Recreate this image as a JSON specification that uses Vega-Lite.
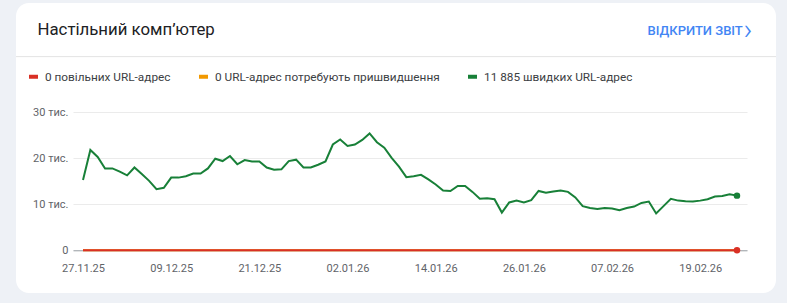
{
  "$schema": "https://vega.github.io/schema/vega-lite/v6.json",
  "width": 760,
  "height": 290,
  "padding": {"left": 15, "top": 3, "right": 12, "bottom": 10},
  "autosize": {"type": "pad"},
  "background": "#eef1f6",
  "config": {
    "font": "Roboto",
    "view": {"fill": "#ffffff", "cornerRadius": 13, "stroke": null},
    "legend": {
      "orient": "none",
      "legendX": 11,
      "legendY": 67,
      "direction": "horizontal",
      "symbolType": "stroke",
      "symbolStrokeWidth": 4,
      "symbolSize": 81,
      "labelFont": "Roboto",
      "labelFontSize": 11.8,
      "labelColor": "#3c4043",
      "labelLimit": 0,
      "labelOffset": 5,
      "columnPadding": 20,
      "padding": 0,
      "title": null
    }
  },
  "data": {"values": [
    {"d": "2025-11-27", "slow": 0, "needs": 0, "fast": 15300},
    {"d": "2025-11-28", "slow": 0, "needs": 0, "fast": 21800},
    {"d": "2025-11-29", "slow": 0, "needs": 0, "fast": 20300},
    {"d": "2025-11-30", "slow": 0, "needs": 0, "fast": 17800},
    {"d": "2025-12-01", "slow": 0, "needs": 0, "fast": 17800},
    {"d": "2025-12-02", "slow": 0, "needs": 0, "fast": 17100},
    {"d": "2025-12-03", "slow": 0, "needs": 0, "fast": 16300},
    {"d": "2025-12-04", "slow": 0, "needs": 0, "fast": 18000},
    {"d": "2025-12-05", "slow": 0, "needs": 0, "fast": 16600},
    {"d": "2025-12-06", "slow": 0, "needs": 0, "fast": 15100},
    {"d": "2025-12-07", "slow": 0, "needs": 0, "fast": 13300},
    {"d": "2025-12-08", "slow": 0, "needs": 0, "fast": 13600},
    {"d": "2025-12-09", "slow": 0, "needs": 0, "fast": 15800},
    {"d": "2025-12-10", "slow": 0, "needs": 0, "fast": 15800},
    {"d": "2025-12-11", "slow": 0, "needs": 0, "fast": 16100},
    {"d": "2025-12-12", "slow": 0, "needs": 0, "fast": 16700},
    {"d": "2025-12-13", "slow": 0, "needs": 0, "fast": 16700},
    {"d": "2025-12-14", "slow": 0, "needs": 0, "fast": 17800},
    {"d": "2025-12-15", "slow": 0, "needs": 0, "fast": 19900},
    {"d": "2025-12-16", "slow": 0, "needs": 0, "fast": 19400},
    {"d": "2025-12-17", "slow": 0, "needs": 0, "fast": 20500},
    {"d": "2025-12-18", "slow": 0, "needs": 0, "fast": 18700},
    {"d": "2025-12-19", "slow": 0, "needs": 0, "fast": 19600},
    {"d": "2025-12-20", "slow": 0, "needs": 0, "fast": 19300},
    {"d": "2025-12-21", "slow": 0, "needs": 0, "fast": 19300},
    {"d": "2025-12-22", "slow": 0, "needs": 0, "fast": 18000},
    {"d": "2025-12-23", "slow": 0, "needs": 0, "fast": 17500},
    {"d": "2025-12-24", "slow": 0, "needs": 0, "fast": 17600},
    {"d": "2025-12-25", "slow": 0, "needs": 0, "fast": 19400},
    {"d": "2025-12-26", "slow": 0, "needs": 0, "fast": 19700},
    {"d": "2025-12-27", "slow": 0, "needs": 0, "fast": 18000},
    {"d": "2025-12-28", "slow": 0, "needs": 0, "fast": 18000},
    {"d": "2025-12-29", "slow": 0, "needs": 0, "fast": 18600},
    {"d": "2025-12-30", "slow": 0, "needs": 0, "fast": 19300},
    {"d": "2025-12-31", "slow": 0, "needs": 0, "fast": 23000},
    {"d": "2026-01-01", "slow": 0, "needs": 0, "fast": 24100},
    {"d": "2026-01-02", "slow": 0, "needs": 0, "fast": 22700},
    {"d": "2026-01-03", "slow": 0, "needs": 0, "fast": 23000},
    {"d": "2026-01-04", "slow": 0, "needs": 0, "fast": 24000},
    {"d": "2026-01-05", "slow": 0, "needs": 0, "fast": 25400},
    {"d": "2026-01-06", "slow": 0, "needs": 0, "fast": 23500},
    {"d": "2026-01-07", "slow": 0, "needs": 0, "fast": 22300},
    {"d": "2026-01-08", "slow": 0, "needs": 0, "fast": 20100},
    {"d": "2026-01-09", "slow": 0, "needs": 0, "fast": 18200},
    {"d": "2026-01-10", "slow": 0, "needs": 0, "fast": 15900},
    {"d": "2026-01-11", "slow": 0, "needs": 0, "fast": 16100},
    {"d": "2026-01-12", "slow": 0, "needs": 0, "fast": 16400},
    {"d": "2026-01-13", "slow": 0, "needs": 0, "fast": 15400},
    {"d": "2026-01-14", "slow": 0, "needs": 0, "fast": 14300},
    {"d": "2026-01-15", "slow": 0, "needs": 0, "fast": 13000},
    {"d": "2026-01-16", "slow": 0, "needs": 0, "fast": 12900},
    {"d": "2026-01-17", "slow": 0, "needs": 0, "fast": 14000},
    {"d": "2026-01-18", "slow": 0, "needs": 0, "fast": 14000},
    {"d": "2026-01-19", "slow": 0, "needs": 0, "fast": 12700},
    {"d": "2026-01-20", "slow": 0, "needs": 0, "fast": 11200},
    {"d": "2026-01-21", "slow": 0, "needs": 0, "fast": 11300},
    {"d": "2026-01-22", "slow": 0, "needs": 0, "fast": 11100},
    {"d": "2026-01-23", "slow": 0, "needs": 0, "fast": 8200},
    {"d": "2026-01-24", "slow": 0, "needs": 0, "fast": 10400},
    {"d": "2026-01-25", "slow": 0, "needs": 0, "fast": 10800},
    {"d": "2026-01-26", "slow": 0, "needs": 0, "fast": 10400},
    {"d": "2026-01-27", "slow": 0, "needs": 0, "fast": 10900},
    {"d": "2026-01-28", "slow": 0, "needs": 0, "fast": 12900},
    {"d": "2026-01-29", "slow": 0, "needs": 0, "fast": 12500},
    {"d": "2026-01-30", "slow": 0, "needs": 0, "fast": 12800},
    {"d": "2026-01-31", "slow": 0, "needs": 0, "fast": 13000},
    {"d": "2026-02-01", "slow": 0, "needs": 0, "fast": 12700},
    {"d": "2026-02-02", "slow": 0, "needs": 0, "fast": 11500},
    {"d": "2026-02-03", "slow": 0, "needs": 0, "fast": 9600},
    {"d": "2026-02-04", "slow": 0, "needs": 0, "fast": 9200},
    {"d": "2026-02-05", "slow": 0, "needs": 0, "fast": 9000},
    {"d": "2026-02-06", "slow": 0, "needs": 0, "fast": 9200},
    {"d": "2026-02-07", "slow": 0, "needs": 0, "fast": 9100},
    {"d": "2026-02-08", "slow": 0, "needs": 0, "fast": 8700},
    {"d": "2026-02-09", "slow": 0, "needs": 0, "fast": 9200},
    {"d": "2026-02-10", "slow": 0, "needs": 0, "fast": 9500},
    {"d": "2026-02-11", "slow": 0, "needs": 0, "fast": 10300},
    {"d": "2026-02-12", "slow": 0, "needs": 0, "fast": 10600},
    {"d": "2026-02-13", "slow": 0, "needs": 0, "fast": 8000},
    {"d": "2026-02-14", "slow": 0, "needs": 0, "fast": 9600},
    {"d": "2026-02-15", "slow": 0, "needs": 0, "fast": 11200},
    {"d": "2026-02-16", "slow": 0, "needs": 0, "fast": 10800},
    {"d": "2026-02-17", "slow": 0, "needs": 0, "fast": 10650},
    {"d": "2026-02-18", "slow": 0, "needs": 0, "fast": 10600},
    {"d": "2026-02-19", "slow": 0, "needs": 0, "fast": 10800},
    {"d": "2026-02-20", "slow": 0, "needs": 0, "fast": 11100},
    {"d": "2026-02-21", "slow": 0, "needs": 0, "fast": 11700},
    {"d": "2026-02-22", "slow": 0, "needs": 0, "fast": 11800},
    {"d": "2026-02-23", "slow": 0, "needs": 0, "fast": 12200},
    {"d": "2026-02-24", "slow": 0, "needs": 0, "fast": 11885}
  ]},
  "layer": [
    {
      "layer": [
        {
          "mark": {"type": "line", "strokeWidth": 2, "interpolate": "linear"},
          "encoding": {
            "x": {
              "field": "d", "type": "temporal",
              "scale": {"type": "utc", "domain": [{"year": 2025, "month": 11, "date": 25, "hours": 15, "minutes": 18, "utc": true}, {"year": 2026, "month": 2, "date": 25, "hours": 8, "minutes": 42, "utc": true}], "range": [57, 731], "nice": false},
              "axis": {
                "orient": "bottom", "offset": -42.7,
                "values": [
                  {"year": 2025, "month": 11, "date": 27, "utc": true},
                  {"year": 2025, "month": 12, "date": 9, "utc": true},
                  {"year": 2025, "month": 12, "date": 21, "utc": true},
                  {"year": 2026, "month": 1, "date": 2, "utc": true},
                  {"year": 2026, "month": 1, "date": 14, "utc": true},
                  {"year": 2026, "month": 1, "date": 26, "utc": true},
                  {"year": 2026, "month": 2, "date": 7, "utc": true},
                  {"year": 2026, "month": 2, "date": 19, "utc": true}
                ],
                "labelExpr": "utcFormat(datum.value, '%d.%m.%y')",
                "labelOverlap": false, "labelFlush": false,
                "ticks": false, "tickSize": 0, "grid": false,
                "domain": true, "domainColor": "#9aa0a6", "domainWidth": 1,
                "labelPadding": 12, "labelFontSize": 11, "labelColor": "#5f6368",
                "title": "Настільний комп’ютер",
                "titleX": 21, "titleY": -216, "titleAlign": "left", "titleBaseline": "alphabetic",
                "titleFontSize": 16.8, "titleFontWeight": "normal", "titleColor": "#202124"
              }
            },
            "y": {
              "field": "fast", "type": "quantitative",
              "scale": {"domain": [0, 30000], "range": [247.3, 109.3], "nice": false, "zero": false},
              "axis": {
                "orient": "left", "offset": -57,
                "values": [0, 10000, 20000, 30000],
                "domain": false, "ticks": false, "tickSize": 0, "grid": true, "gridColor": "#ebebeb", "gridWidth": 1,
                "labelExpr": "datum.value == 0 ? '0' : format(datum.value / 1000, 'd') + ' тис.'",
                "labelFlush": false, "labelPadding": 5, "labelFontSize": 11, "labelColor": "#5f6368",
                "title": "ВІДКРИТИ ЗВІТ",
                "titleX": 574, "titleY": 31, "titleAngle": 0, "titleAlign": "left", "titleBaseline": "alphabetic",
                "titleFontSize": 13, "titleFontWeight": 500, "titleColor": "#4285f4"
              }
            },
            "color": {
              "datum": "11 885 швидких URL-адрес",
              "scale": {"domain": ["0 повільних URL-адрес", "0 URL-адрес потребують пришвидшення", "11 885 швидких URL-адрес"], "range": ["#d93025", "#f29900", "#188038"]},
              "legend": {"title": null, "labelLimit": 0}
            }
          }
        },
        {
          "mark": {"type": "line", "strokeWidth": 2},
          "encoding": {
            "x": {"field": "d", "type": "temporal", "scale": {"type": "utc", "domain": [{"year": 2025, "month": 11, "date": 25, "hours": 15, "minutes": 18, "utc": true}, {"year": 2026, "month": 2, "date": 25, "hours": 8, "minutes": 42, "utc": true}], "range": [57, 731], "nice": false}},
            "y": {"field": "needs", "type": "quantitative", "scale": {"domain": [0, 30000], "range": [247.3, 109.3], "nice": false, "zero": false}},
            "color": {"datum": "0 URL-адрес потребують пришвидшення"}
          }
        },
        {
          "mark": {"type": "line", "strokeWidth": 2},
          "encoding": {
            "x": {"field": "d", "type": "temporal", "scale": {"type": "utc", "domain": [{"year": 2025, "month": 11, "date": 25, "hours": 15, "minutes": 18, "utc": true}, {"year": 2026, "month": 2, "date": 25, "hours": 8, "minutes": 42, "utc": true}], "range": [57, 731], "nice": false}},
            "y": {"field": "slow", "type": "quantitative", "scale": {"domain": [0, 30000], "range": [247.3, 109.3], "nice": false, "zero": false}},
            "color": {"datum": "0 повільних URL-адрес"}
          }
        },
        {
          "data": {"values": [{}]},
          "mark": {"type": "rule", "color": "#e3e3e3", "strokeWidth": 1},
          "encoding": {
            "y": {"datum": 42100, "type": "quantitative", "scale": {"domain": [0, 30000], "range": [247.3, 109.3], "nice": false, "zero": false}}
          }
        }
      ]
    },
    {
      "transform": [{"filter": "utcmonth(datum.d) == 1 && utcdate(datum.d) == 24"}],
      "layer": [
        {
          "mark": {"type": "point", "filled": true, "size": 42, "color": "#188038", "opacity": 1},
          "encoding": {
            "x": {"field": "d", "type": "temporal", "scale": {"type": "utc", "domain": [{"year": 2025, "month": 11, "date": 25, "hours": 15, "minutes": 18, "utc": true}, {"year": 2026, "month": 2, "date": 25, "hours": 8, "minutes": 42, "utc": true}], "range": [57, 731], "nice": false}},
            "y": {
              "field": "fast", "type": "quantitative",
              "scale": {"domain": [0, 30000], "range": [247.3, 109.3], "nice": false, "zero": false},
              "axis": {
                "orient": "right", "offset": 0,
                "labels": false, "ticks": false, "domain": false, "grid": false,
                "title": "›", "titleX": -33, "titleY": 35, "titleAngle": 0, "titleAlign": "left", "titleBaseline": "alphabetic",
                "titleFontSize": 30, "titleFontWeight": 300, "titleColor": "#4285f4"
              }
            }
          }
        },
        {
          "mark": {"type": "point", "filled": true, "size": 42, "color": "#d93025", "opacity": 1},
          "encoding": {
            "x": {"field": "d", "type": "temporal", "scale": {"type": "utc", "domain": [{"year": 2025, "month": 11, "date": 25, "hours": 15, "minutes": 18, "utc": true}, {"year": 2026, "month": 2, "date": 25, "hours": 8, "minutes": 42, "utc": true}], "range": [57, 731], "nice": false}},
            "y": {"field": "slow", "type": "quantitative", "scale": {"domain": [0, 30000], "range": [247.3, 109.3], "nice": false, "zero": false}}
          }
        }
      ]
    }
  ],
  "resolve": {"scale": {"y": "independent"}, "axis": {"y": "independent"}}
}
